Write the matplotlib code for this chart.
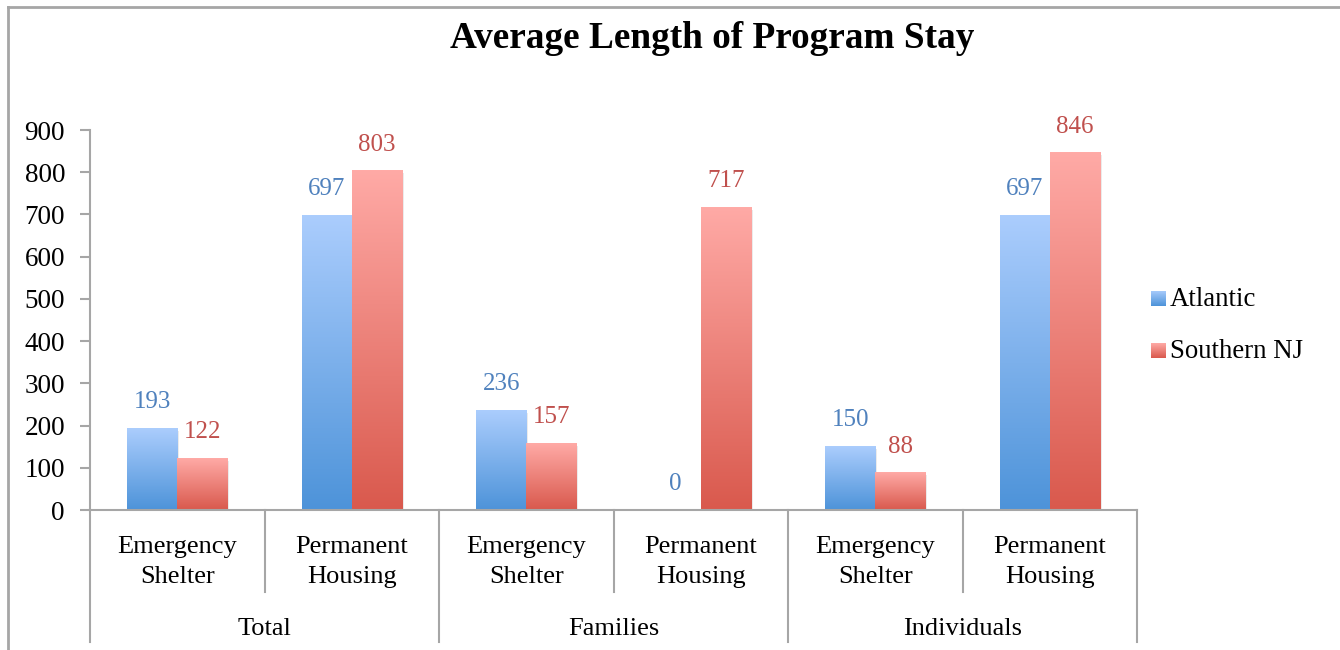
import numpy as np
import matplotlib
matplotlib.use("Agg")
from matplotlib import pyplot as plt
from matplotlib.colors import LinearSegmentedColormap
from matplotlib.lines import Line2D

plt.rcParams['font.family'] = ['Liberation Serif', 'DejaVu Serif']

# data
grupos = ['Total', 'Families', 'Individuals']
tipos = ['Emergency\nShelter', 'Permanent\nHousing']
series = ['Atlantic', 'Southern NJ']
atlantic = [193, 697, 236, 0, 150, 697]
southern = [122, 803, 157, 717, 88, 846]

# colores (abajo, arriba) y color de etiqueta
grad_azul = ['#4d93d9', '#abcdfd']
grad_rojo = ['#d9594d', '#ffaaa6']
txt_azul = '#4f81bd'
txt_rojo = '#c0504d'
gris = '#a6a6a6'

fig = plt.figure(figsize=(13.4, 6.5), dpi=100)
ax = fig.add_axes([90/1340, 1-510/650, (1137-90)/1340, 380/650])

x = np.arange(len(atlantic))
w = 0.287

def barras_grad(xs, vals, grad, col_txt):
    cmap = LinearSegmentedColormap.from_list('g', grad)
    bars = ax.bar(xs, vals, w, color='none', edgecolor='none')
    g = np.linspace(0, 1, 256).reshape(-1, 1)
    for b, v in zip(bars, vals):
        x0 = b.get_x()
        x1 = x0 + b.get_width()
        if v > 0:
            # sombra suave
            ax.bar(x0 + b.get_width()/2 + 0.012, v, b.get_width(), bottom=-6,
                   color='#000000', alpha=0.08, zorder=1)
            ax.imshow(g, extent=[x0, x1, 0, v], origin='lower', cmap=cmap,
                      aspect='auto', zorder=2, interpolation='bilinear')
        ax.annotate(str(v), (x0 + b.get_width()/2, v), xytext=(0, 11),
                    textcoords='offset points', ha='center', va='bottom',
                    fontsize=18, color=col_txt)

barras_grad(x - w/2, atlantic, grad_azul, txt_azul)
barras_grad(x + w/2, southern, grad_rojo, txt_rojo)

ax.set_xlim(-0.5, 5.5)
ax.set_ylim(0, 900)
ax.set_yticks(range(0, 901, 100))
ax.tick_params(axis='y', labelsize=19.5, length=7, width=1.5, color=gris, pad=11)
ax.set_xticks([])
for s in ['top', 'right']:
    ax.spines[s].set_visible(False)
for s in ['left', 'bottom']:
    ax.spines[s].set_color(gris)
    ax.spines[s].set_linewidth(1.5)

# etiquetas de categoria
trans = ax.get_xaxis_transform()
for i in range(len(atlantic)):
    ax.text(i, -0.138, tipos[i % 2], transform=trans, ha='center', va='center',
            fontsize=19, linespacing=1.47)
for j, gname in enumerate(grupos):
    ax.text(2*j + 0.5, -0.312, gname, transform=trans, ha='center', va='center',
            fontsize=19)

# separadores
for k in range(7):
    xv = k - 0.5
    y_fin = -0.347 if k % 2 == 0 else -0.216
    ax.add_line(Line2D([xv, xv], [0, y_fin], transform=trans, color=gris,
                       lw=1.5, clip_on=False))

# leyenda manual
for n, (nombre, grad) in enumerate(zip(series, [grad_azul, grad_rojo])):
    yc = 299 + n*52
    lax = fig.add_axes([1151/1340, 1-(yc+7)/650, 15/1340, 15/650])
    lax.imshow(np.linspace(0, 1, 64).reshape(-1, 1), origin='lower',
               cmap=LinearSegmentedColormap.from_list('l', grad), aspect='auto')
    lax.axis('off')
    fig.text(1170/1340, 1-(yc+1)/650, nombre, ha='left', va='center', fontsize=19.3)

fig.text(712/1340, 1-38/650, 'Average Length of Program Stay', ha='center',
         va='center', fontsize=26.8, fontweight='bold')

# borde exterior
fig.add_artist(Line2D([8/1340, 1], [1-7/650, 1-7/650], transform=fig.transFigure,
                      color=gris, lw=2))
fig.add_artist(Line2D([8/1340, 8/1340], [0, 1-7/650], transform=fig.transFigure,
                      color=gris, lw=2))

fig.savefig('out.png', dpi=100)
